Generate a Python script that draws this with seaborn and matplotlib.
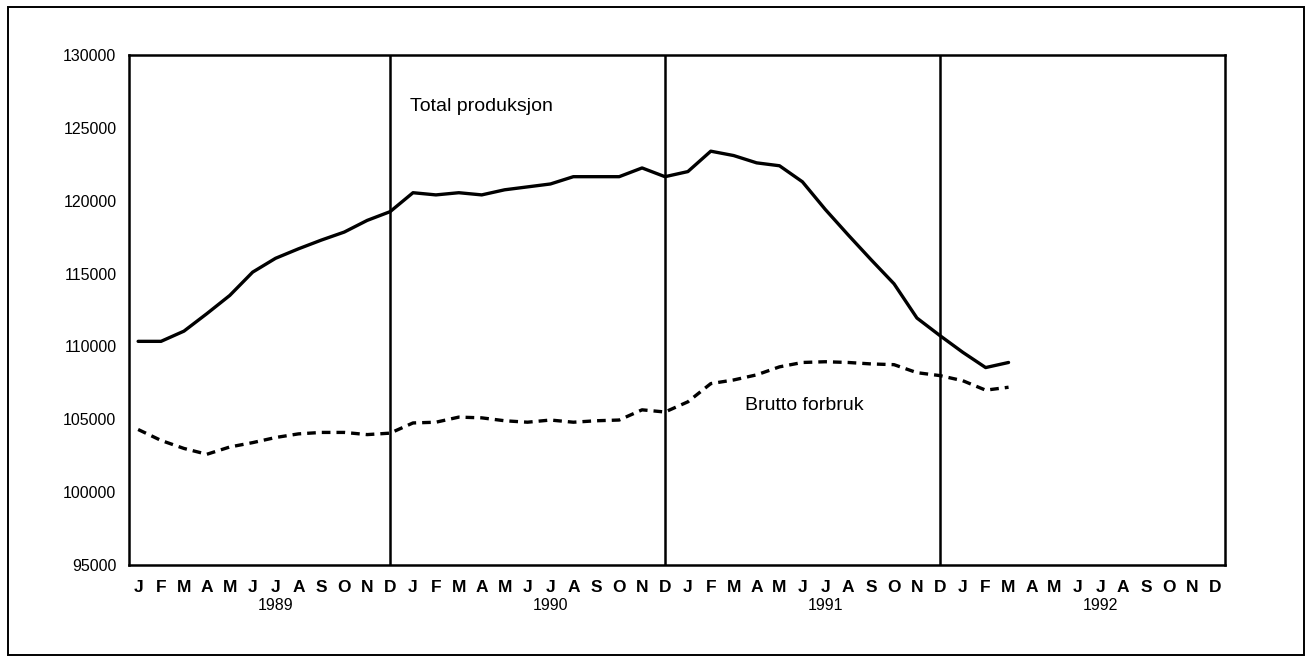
import numpy as np
import pandas as pd
import matplotlib
matplotlib.use("Agg")
import matplotlib.pyplot as plt
import seaborn as sns
from matplotlib.patches import Rectangle

# monthly values, Jan 1989 .. Mar 1992
months = ["J", "F", "M", "A", "M", "J", "J", "A", "S", "O", "N", "D"]
years = ["1989", "1990", "1991", "1992"]

total_produksjon = [
    110350, 110350, 111050, 112250, 113500, 115100, 116050, 116700, 117300, 117850, 118650, 119250,
    120550, 120400, 120550, 120400, 120750, 120950, 121150, 121650, 121650, 121650, 122250, 121650,
    122000, 123400, 123100, 122600, 122400, 121300, 119400, 117650, 115950, 114300, 111950, 110750,
    109600, 108550, 108900,
]
brutto_forbruk = [
    104300, 103550, 103000, 102600, 103100, 103400, 103750, 104000, 104100, 104100, 103950, 104050,
    104750, 104800, 105150, 105100, 104900, 104800, 104950, 104800, 104900, 104950, 105650, 105500,
    106200, 107450, 107700, 108050, 108600, 108900, 108950, 108900, 108800, 108750, 108200, 108000,
    107650, 107000, 107200,
]

df = pd.DataFrame({
    "step": np.arange(len(total_produksjon)),
    "total": total_produksjon,
    "brutto": brutto_forbruk,
})

sns.set_style("white")
plt.rcParams["font.family"] = ["Liberation Sans", "DejaVu Sans"]
plt.rcParams["text.color"] = "black"
plt.rcParams["xtick.color"] = "black"
plt.rcParams["ytick.color"] = "black"

fig = plt.figure(figsize=(13.12, 6.62), dpi=100)
ax = fig.add_axes([0.0983, 0.1465, 0.8354, 0.7704])

sns.lineplot(data=df, x="step", y="total", ax=ax, color="black", linewidth=2.4)
sns.lineplot(data=df, x="step", y="brutto", ax=ax, color="black", linewidth=2.4,
             dashes=False, linestyle=(0, (2.6, 1.8)))

# year separators at each December
for yr in range(3):
    ax.axvline(11 + 12 * yr, color="black", linewidth=1.8)

ax.set_xlim(-0.4, 47.45)
ax.set_ylim(95000, 130000)
ax.set_yticks(np.arange(95000, 130001, 5000))
ax.set_yticklabels([str(v) for v in range(95000, 130001, 5000)], fontsize=11.5)
ax.set_xticks(np.arange(48))
ax.set_xticklabels(months * 4, fontsize=12.5, fontweight="bold")
ax.tick_params(axis="y", direction="out", length=8, width=1.6, pad=1)
ax.tick_params(axis="x", direction="out", length=10, width=1.4, pad=1)
for s in ax.spines.values():
    s.set_linewidth(1.8)
    s.set_color("black")
ax.set_xlabel("")
ax.set_ylabel("")

for i, yl in enumerate(years):
    ax.text(6 + 12 * i, -0.08, yl, transform=ax.get_xaxis_transform(),
            ha="center", va="center", fontsize=11.5)

ax.text(11.85, 126500, "Total produksjon", fontsize=14, ha="left", va="center")
ax.text(26.5, 105950, "Brutto forbruk", fontsize=14, ha="left", va="center")

fig.patches.append(Rectangle((8 / 1312, 7 / 662), 1296 / 1312, 648 / 662,
                             transform=fig.transFigure, fill=False,
                             edgecolor="black", linewidth=1.4))

fig.savefig("out.png", dpi=100)
